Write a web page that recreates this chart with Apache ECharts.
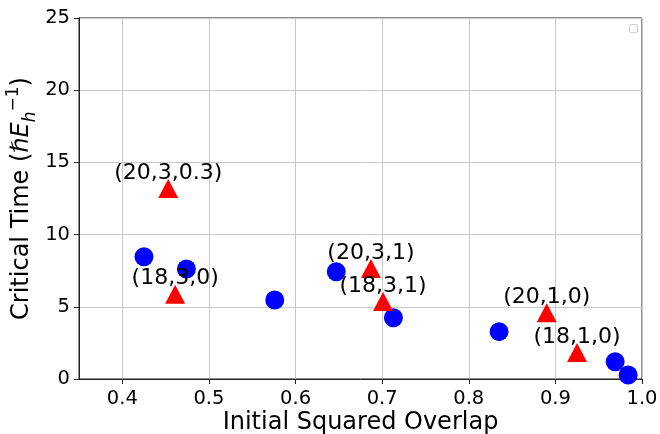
<!DOCTYPE html>
<html>
<head>
<meta charset="utf-8">
<script src="https://cdn.jsdelivr.net/npm/echarts@6/dist/echarts.min.js"></script>
<style>html,body{margin:0;padding:0;background:#fff}#c{width:660px;height:434px}</style>
</head>
<body>
<div id="c"></div>
<script>
// Data
const circleX = [0.425, 0.474, 0.576, 0.647, 0.713, 0.835, 0.969, 0.984];
const circleY = [8.47, 7.62, 5.47, 7.43, 4.24, 3.28, 1.20, 0.28];
const triX = [0.453, 0.461, 0.687, 0.701, 0.890, 0.925];
const triY = [13.20, 5.87, 7.65, 5.37, 4.59, 1.83];
const triLabels = ['(20,3,0.3)', '(18,3,0)', '(20,3,1)', '(18,3,1)', '(20,1,0)', '(18,1,0)'];
const xTicks = [0.4, 0.5, 0.6, 0.7, 0.8, 0.9, 1.0];
const yTicks = [0, 5, 10, 15, 20, 25];

const FONT = 'DejaVu Sans';
const chart = echarts.init(document.getElementById('c'));
chart.setOption({
  animation: false,
  backgroundColor: '#fff',
  textStyle: { fontFamily: FONT },
  grid: { left: 79, right: 18, top: 18, bottom: 55, show: true, borderColor: '#222', borderWidth: 1, containLabel: false, outerBoundsMode: 'none' },
  xAxis: {
    type: 'value', min: 0.35, max: 1.0,
    name: 'Initial Squared Overlap', nameLocation: 'middle', nameGap: 32, nameMoveOverlap: false,
    nameTextStyle: { fontFamily: FONT, fontSize: 24, color: '#000' },
    axisLine: { show: true, onZero: false, lineStyle: { color: '#222', width: 1 } },
    axisTick: { show: true, length: 5, customValues: xTicks, lineStyle: { color: '#222' } },
    axisLabel: { customValues: xTicks, fontFamily: FONT, fontSize: 19.5, color: '#000', margin: 10, formatter: v => v.toFixed(1) },
    splitLine: { show: true, lineStyle: { color: '#c8c8c8', width: 1 } }
  },
  yAxis: {
    type: 'value', min: 0, max: 25, interval: 5,
    name: '{n|Critical Time (}{i|ℏE}{sub|h}{sup|−1}{n|)}', nameLocation: 'middle', nameGap: 40, nameRotate: 90, nameMoveOverlap: false,
    nameTextStyle: {
      fontFamily: FONT, fontSize: 24, color: '#000',
      rich: {
        n: { fontFamily: FONT, fontSize: 24, color: '#000', lineHeight: 34, verticalAlign: 'middle' },
        i: { fontFamily: FONT, fontSize: 24, color: '#000', fontStyle: 'italic', lineHeight: 34, verticalAlign: 'middle' },
        sub: { fontFamily: FONT, fontSize: 17, color: '#000', fontStyle: 'italic', verticalAlign: 'bottom', lineHeight: 17 },
        sup: { fontFamily: FONT, fontSize: 17, color: '#000', verticalAlign: 'top', lineHeight: 17 }
      }
    },
    axisLine: { show: true, lineStyle: { color: '#222', width: 1 } },
    axisTick: { show: true, length: 5, lineStyle: { color: '#222' } },
    axisLabel: { fontFamily: FONT, fontSize: 19.5, color: '#000', margin: 9 },
    splitLine: { show: true, lineStyle: { color: '#c8c8c8', width: 1 } }
  },
  graphic: [{
    type: 'rect', right: 22, top: 24, z: 100,
    shape: { width: 8, height: 8, r: 1.5 },
    style: { fill: '#fff', stroke: '#cfcfcf', lineWidth: 1 }
  }],
  series: [
    {
      type: 'scatter', symbol: 'circle', symbolSize: 19,
      itemStyle: { color: '#0000ff', opacity: 1 },
      data: circleX.map((x, i) => [x, circleY[i]]),
      z: 2
    },
    {
      type: 'scatter', symbol: 'triangle', symbolSize: [20, 19],
      itemStyle: { color: '#ff0000', opacity: 1 },
      data: triX.map((x, i) => ({ value: [x, triY[i]], name: triLabels[i] })),
      label: {
        show: true, position: 'top', distance: -5,
        formatter: p => p.name,
        fontFamily: FONT, fontSize: 22, color: '#000'
      },
      z: 3
    }
  ]
});
</script>
</body>
</html>
